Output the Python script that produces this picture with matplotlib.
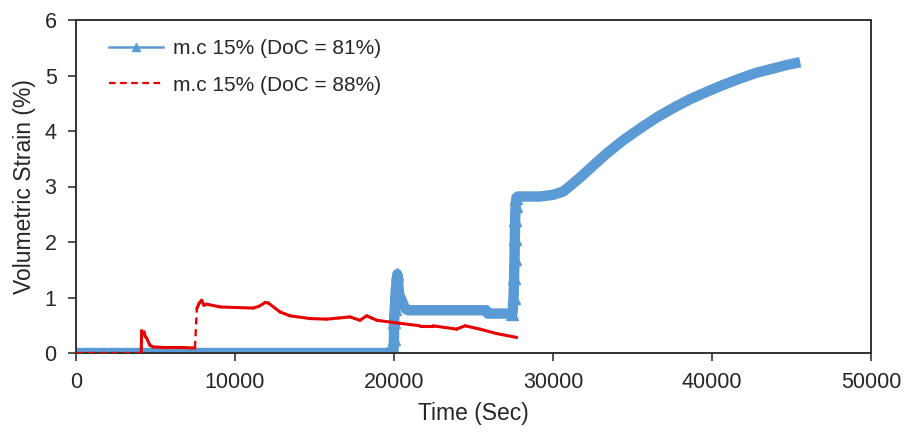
import matplotlib
matplotlib.use("Agg")
import matplotlib.pyplot as plt
from matplotlib.collections import LineCollection
from matplotlib.lines import Line2D
import numpy as np

plt.rcParams['font.family'] = ['Liberation Sans', 'DejaVu Sans']

# Series: m.c 15% (DoC = 81%)
blue_time = [0, 19500, 19750, 19960, 20000, 20000, 20050, 20100, 20210, 20330,
             20480, 20700, 20900, 23000, 25800, 25900, 27450, 27520, 27550,
             27580, 27600, 27620, 27650, 27700, 27800, 29200, 30000, 30650,
             31700, 32500, 33400, 34400, 35500, 36500, 37600, 38600, 39700,
             40700, 41800, 42800, 43900, 44700, 45550]
blue_strain = [0.00, 0.00, 0.02, 0.00, 0.25, 0.55, 0.80, 1.10, 1.42, 1.05,
               0.95, 0.80, 0.77, 0.77, 0.77, 0.71, 0.71, 1.00, 1.35,
               1.70, 2.05, 2.40, 2.65, 2.80, 2.82, 2.82, 2.85, 2.91,
               3.16, 3.37, 3.60, 3.83, 4.05, 4.24, 4.42, 4.57, 4.71,
               4.83, 4.95, 5.05, 5.13, 5.19, 5.24]

# Series: m.c 15% (DoC = 88%)
red_time = [0, 4100, 4130, 4200, 4280, 4350, 4440, 4550, 4650, 4850, 5500,
            6500, 7480, 7600, 7750, 7900, 8050, 8220, 9060, 10000, 11150,
            11500, 11900, 12100, 12830, 13460, 14720, 15770, 16500, 17230,
            17860, 18280, 18600, 18910, 19960, 20380, 21640, 22450, 23940,
            24470, 25410, 26460, 27720]
red_strain = [0.00, 0.00, 0.40, 0.34, 0.38, 0.30, 0.27, 0.20, 0.14, 0.11, 0.10,
              0.10, 0.09, 0.80, 0.90, 0.95, 0.86, 0.88, 0.83, 0.82, 0.81,
              0.84, 0.91, 0.90, 0.74, 0.67, 0.62, 0.61, 0.63, 0.65,
              0.59, 0.67, 0.63, 0.59, 0.55, 0.535, 0.49, 0.49, 0.43,
              0.49, 0.43, 0.35, 0.28]

labels = ["m.c 15% (DoC = 81%)", "m.c 15% (DoC = 88%)"]
x_ticks = [0, 10000, 20000, 30000, 40000, 50000]
y_ticks = [0, 1, 2, 3, 4, 5, 6]

blue = '#5B9BD5'
red = '#E60000'
text_col = '#262626'
spine_col = '#333333'

fig = plt.figure(figsize=(9.18, 4.34), dpi=100)
ax = fig.add_axes([76 / 918, 1 - 353 / 434, (871 - 76) / 918, (353 - 20) / 434])

# thick band for the densely logged DoC 81% series
ax.plot(blue_time, blue_strain, color=blue, lw=7.5, solid_capstyle='butt',
        solid_joinstyle='round', zorder=2)
# triangle markers stay visible only along the near-vertical jumps
bt = np.asarray(blue_time, dtype=float)
bv = np.asarray(blue_strain)
rate = np.abs(np.diff(bv)) / np.maximum(np.diff(bt), 1.0)
steep = np.zeros(len(bv), dtype=bool)
steep[1:] |= rate > 0.002
steep[:-1] |= rate > 0.002
ax.plot(bt[steep], bv[steep], color=blue, lw=0, marker='^', ms=8, zorder=2)

# DoC 88% series: each segment restarts its dash pattern, so long gaps
# between logged readings show dashed, short ones look solid
pts = np.column_stack([red_time, red_strain])
segs = np.stack([pts[:-1], pts[1:]], axis=1)
dt = np.diff(red_time)
dv = np.abs(np.diff(red_strain))
gap = (dt > 1500) | (dv > 0.5)
ax.add_collection(LineCollection(segs[~gap], colors=red, linewidths=2.2,
                                 capstyle='round', joinstyle='round', zorder=3))
ax.add_collection(LineCollection(segs[gap], colors=red, linewidths=1.7,
                                 linestyles=(0, (3, 2)), zorder=3))

ax.set_xlim(0, 50000)
ax.set_ylim(0, 6)
ax.set_xticks(x_ticks)
ax.set_yticks(y_ticks)
ax.tick_params(axis='both', direction='out', length=6, width=1.2,
               colors=spine_col, labelcolor=text_col, labelsize=15.5, pad=8)
for s in ax.spines.values():
    s.set_color(spine_col)
    s.set_linewidth(1.4)

ax.set_xlabel("Time (Sec)", fontsize=16.5, color=text_col, labelpad=6)
ax.set_ylabel("Volumetric Strain (%)", fontsize=16.5, color=text_col, labelpad=6)

handles = [Line2D([], [], color=blue, lw=1.8, marker='^', ms=6),
           Line2D([], [], color=red, lw=1.6, ls=(0, (3, 2)))]
fig.legend(handles, labels, loc='upper left',
           bbox_to_anchor=(109 / 918, 1 - 39 / 434), frameon=False,
           fontsize=15, handlelength=2.6, handletextpad=0.45,
           labelspacing=0.85, borderpad=0, borderaxespad=0,
           labelcolor=text_col)

fig.savefig("out.png", dpi=100)
